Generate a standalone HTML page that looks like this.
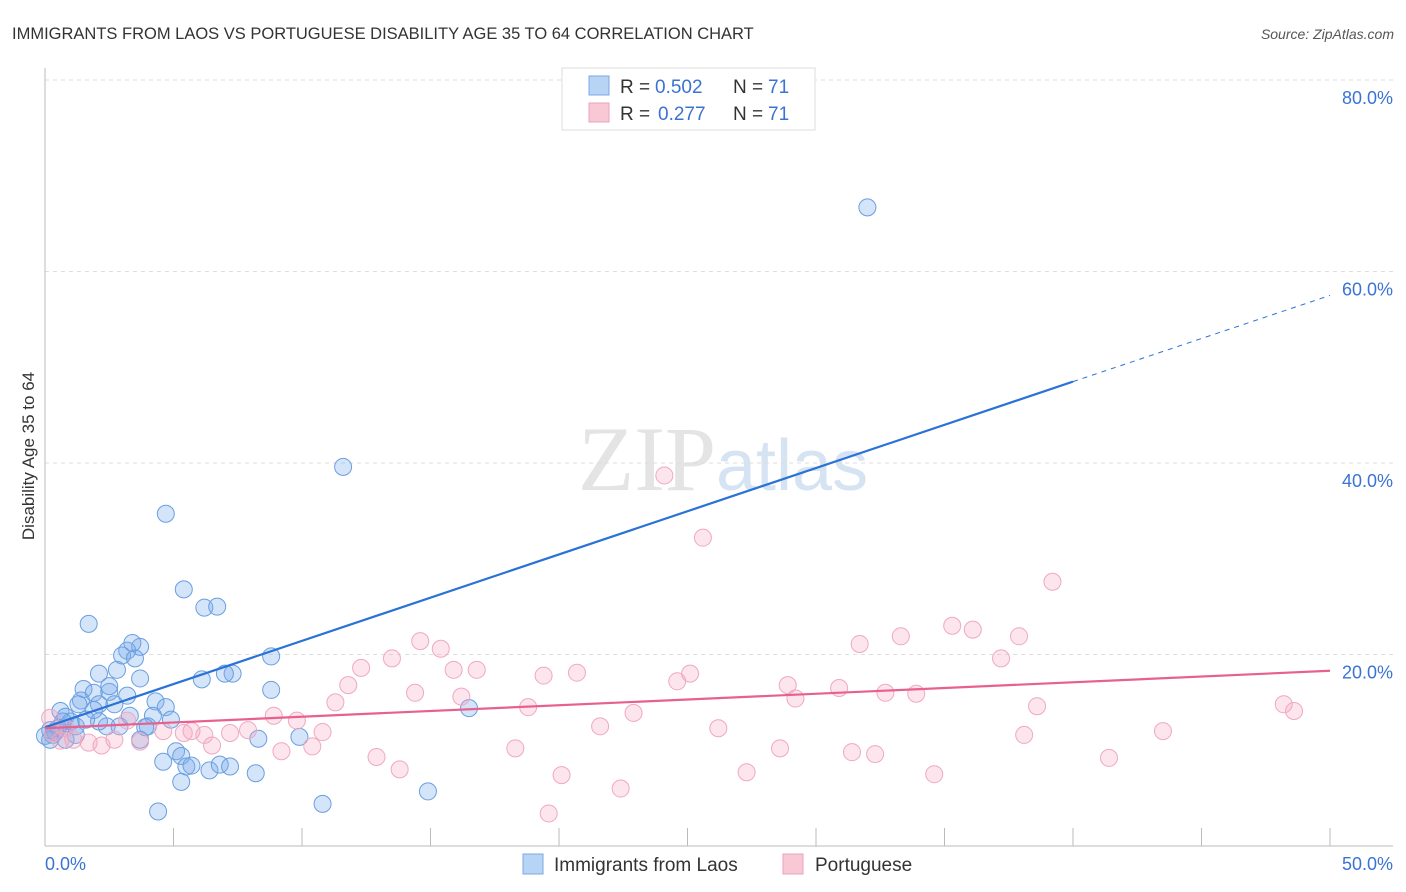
<!DOCTYPE html>
<html><head><meta charset="utf-8"><style>
body{margin:0;background:#fff;font-family:"Liberation Sans",sans-serif}
svg{display:block}
</style></head><body>
<svg id="chart" width="1406" height="892" xmlns="http://www.w3.org/2000/svg">
<text x="12" y="39" font-size="16.5" fill="#333">IMMIGRANTS FROM LAOS VS PORTUGUESE DISABILITY AGE 35 TO 64 CORRELATION CHART</text>
<text x="1394" y="39" font-size="14" fill="#555" font-style="italic" text-anchor="end">Source: ZipAtlas.com</text>
<text x="716" y="490" font-size="92" fill="#e4e4e4" text-anchor="end" font-family="Liberation Serif,serif">ZIP</text>
<text x="716" y="490" font-size="72" fill="#d6e3f3">atlas</text>
<g id="grid"></g><g id="axes"></g><g id="pts"></g><g id="lines"></g>
<text transform="translate(34,456) rotate(-90)" font-size="17" fill="#333" text-anchor="middle">Disability Age 35 to 64</text>
<text x="45" y="870" font-size="18" fill="#3b73d4">0.0%</text>
<text x="1393" y="870" font-size="18" fill="#3b73d4" text-anchor="end">50.0%</text>
<g>
<rect x="562" y="68" width="253" height="62" fill="#fff" stroke="#ddd"/>
<rect x="589" y="76" width="20" height="19" fill="#b8d4f5" stroke="#7aa8e6"/>
<text x="620" y="93" font-size="19" fill="#333">R =</text>
<text x="655" y="93" font-size="19" fill="#3b73d4">0.502</text>
<text x="733" y="93" font-size="19" fill="#333">N =</text>
<text x="768" y="93" font-size="19" fill="#3b73d4">71</text>
<rect x="589" y="103" width="20" height="19" fill="#f9c8d6" stroke="#eea0b8"/>
<text x="620" y="120" font-size="19" fill="#333">R =</text>
<text x="658" y="120" font-size="19" fill="#3b73d4">0.277</text>
<text x="733" y="120" font-size="19" fill="#333">N =</text>
<text x="768" y="120" font-size="19" fill="#3b73d4">71</text>
</g>
<g>
<rect x="523" y="854" width="20" height="20" fill="#b8d4f5" stroke="#7aa8e6"/>
<text x="554" y="871" font-size="19" fill="#333">Immigrants from Laos</text>
<rect x="783" y="854" width="20" height="20" fill="#f9c8d6" stroke="#eea0b8"/>
<text x="815" y="871" font-size="19" fill="#333">Portuguese</text>
</g>
</svg>
<script>
const yTicks=[20,40,60,80];
const yTickLabels=["20.0%","40.0%","60.0%","80.0%"];
const xTicks=[5,10,15,20,25,30,35,40,45,50];
const laosX=[32.0,11.6,4.7,5.4,6.2,6.7,1.7,3.7,3.2,3.0,3.5,3.4,2.1,2.8,3.7,6.1,7.3,7.0,8.8,1.5,1.4,1.9,2.5,3.2,4.3,4.7,2.5,1.3,2.1,2.7,0.6,3.3,4.2,8.8,0.8,1.0,1.2,0.2,0.4,0,0.7,2.4,4.0,5.1,5.3,4.6,5.5,5.7,6.4,6.8,7.2,8.2,5.3,8.3,9.9,16.5,4.4,10.8,14.9,3.9,2.1,1.6,0.5,0.3,2.9,3.7,0.8,1.2,1.9,4.9,0.2];
const laosY=[66.7,39.6,34.7,26.8,24.9,25.0,23.2,20.8,20.4,19.9,19.6,21.2,18.0,18.4,17.5,17.4,18.0,18.0,19.8,16.4,15.2,16.0,16.1,15.7,15.1,14.5,16.7,14.8,14.8,14.8,14.1,13.6,13.6,16.3,13.5,13.0,12.5,12.1,11.9,11.5,13.0,12.5,12.5,9.9,9.4,8.8,8.3,8.4,7.9,8.5,8.3,7.6,6.7,11.2,11.4,14.4,3.6,4.4,5.7,12.4,13.0,13.2,12.3,11.6,12.5,11.1,11.1,11.6,14.2,13.2,11.1];
const portX=[24.1,25.6,39.2,35.3,36.1,37.9,33.3,31.7,14.6,15.4,13.5,37.2,12.3,15.9,16.8,19.4,20.7,25.1,24.6,11.8,14.4,16.2,30.9,28.9,32.7,33.9,11.3,18.8,29.2,38.6,48.2,48.6,22.9,8.9,9.8,10.8,21.6,26.2,38.1,43.5,18.3,28.6,31.4,32.3,41.4,12.9,13.8,20.1,27.3,34.6,19.6,22.4,9.2,10.4,7.2,7.9,6.5,5.7,5.4,4.6,3.2,2.7,2.2,1.7,1.1,0.6,0.3,0.2,0.8,3.7,6.2];
const portY=[38.7,32.2,27.6,23.0,22.6,21.9,21.9,21.1,21.4,20.6,19.6,19.6,18.6,18.4,18.4,17.8,18.1,18.0,17.2,16.8,16.0,15.6,16.5,16.8,16.0,15.9,15.0,14.5,15.4,14.6,14.8,14.1,13.9,13.6,13.1,11.9,12.5,12.3,11.6,12.0,10.2,10.2,9.8,9.6,9.2,9.3,8.0,7.4,7.7,7.5,3.4,6.0,9.9,10.4,11.8,12.1,10.5,12.0,11.8,12.0,13.1,11.1,10.5,10.8,11.1,11.0,11.8,13.4,12.3,10.9,11.6];
const laosTrend=[12.4,48.5,57.5]; // y at x=0, x=40 (solid end), x=50
const portTrend=[12.3,18.3]; // y at x=0, x=50
const X=v=>45+v*25.7, Y=v=>846-v*9.575;
const NS="http://www.w3.org/2000/svg";
function mk(parent,tag,attrs){const e=document.createElementNS(NS,tag);for(const k in attrs)e.setAttribute(k,attrs[k]);document.getElementById(parent).appendChild(e);return e;}
yTicks.forEach((t,i)=>{
 const l=mk('grid','line',{x1:45,x2:1393,y1:Y(t),y2:Y(t),stroke:'#ddd','stroke-dasharray':'4,4'});
 
 
 const tx=mk('grid','text',{x:1393,y:Y(t)+24,'font-size':18,fill:'#3b73d4','text-anchor':'end'});
 tx.textContent=yTickLabels[i];
 
 
});
let a=mk('axes','line',{x1:45,x2:45,y1:68,y2:846,stroke:'#bbb'});


a=mk('axes','line',{x1:45,x2:1393,y1:846,y2:846,stroke:'#bbb'});


xTicks.forEach(t=>{const l=mk('axes','line',{x1:X(t),x2:X(t),y1:828,y2:846,stroke:'#bbb'});
 
 });
laosX.forEach((v,i)=>{const c=mk('pts','circle',{cx:X(v),cy:Y(laosY[i]),r:8.5,fill:'rgba(120,170,235,0.32)',stroke:'#6a9fe0','stroke-width':1});
 
 });
portX.forEach((v,i)=>{const c=mk('pts','circle',{cx:X(v),cy:Y(portY[i]),r:8.5,fill:'rgba(245,160,190,0.28)',stroke:'#f0a8c0','stroke-width':1});
 
 });
let t=mk('lines','line',{x1:X(0),y1:Y(laosTrend[0]),x2:X(40),y2:Y(laosTrend[1]),stroke:'#2a72d6','stroke-width':2.2});


t=mk('lines','line',{x1:X(40),y1:Y(laosTrend[1]),x2:X(50),y2:Y(laosTrend[2]),stroke:'#2a72d6','stroke-width':1,'stroke-dasharray':'5,5'});


t=mk('lines','line',{x1:X(0),y1:Y(portTrend[0]),x2:X(50),y2:Y(portTrend[1]),stroke:'#e8608e','stroke-width':2.2});


</script>
</body></html>
